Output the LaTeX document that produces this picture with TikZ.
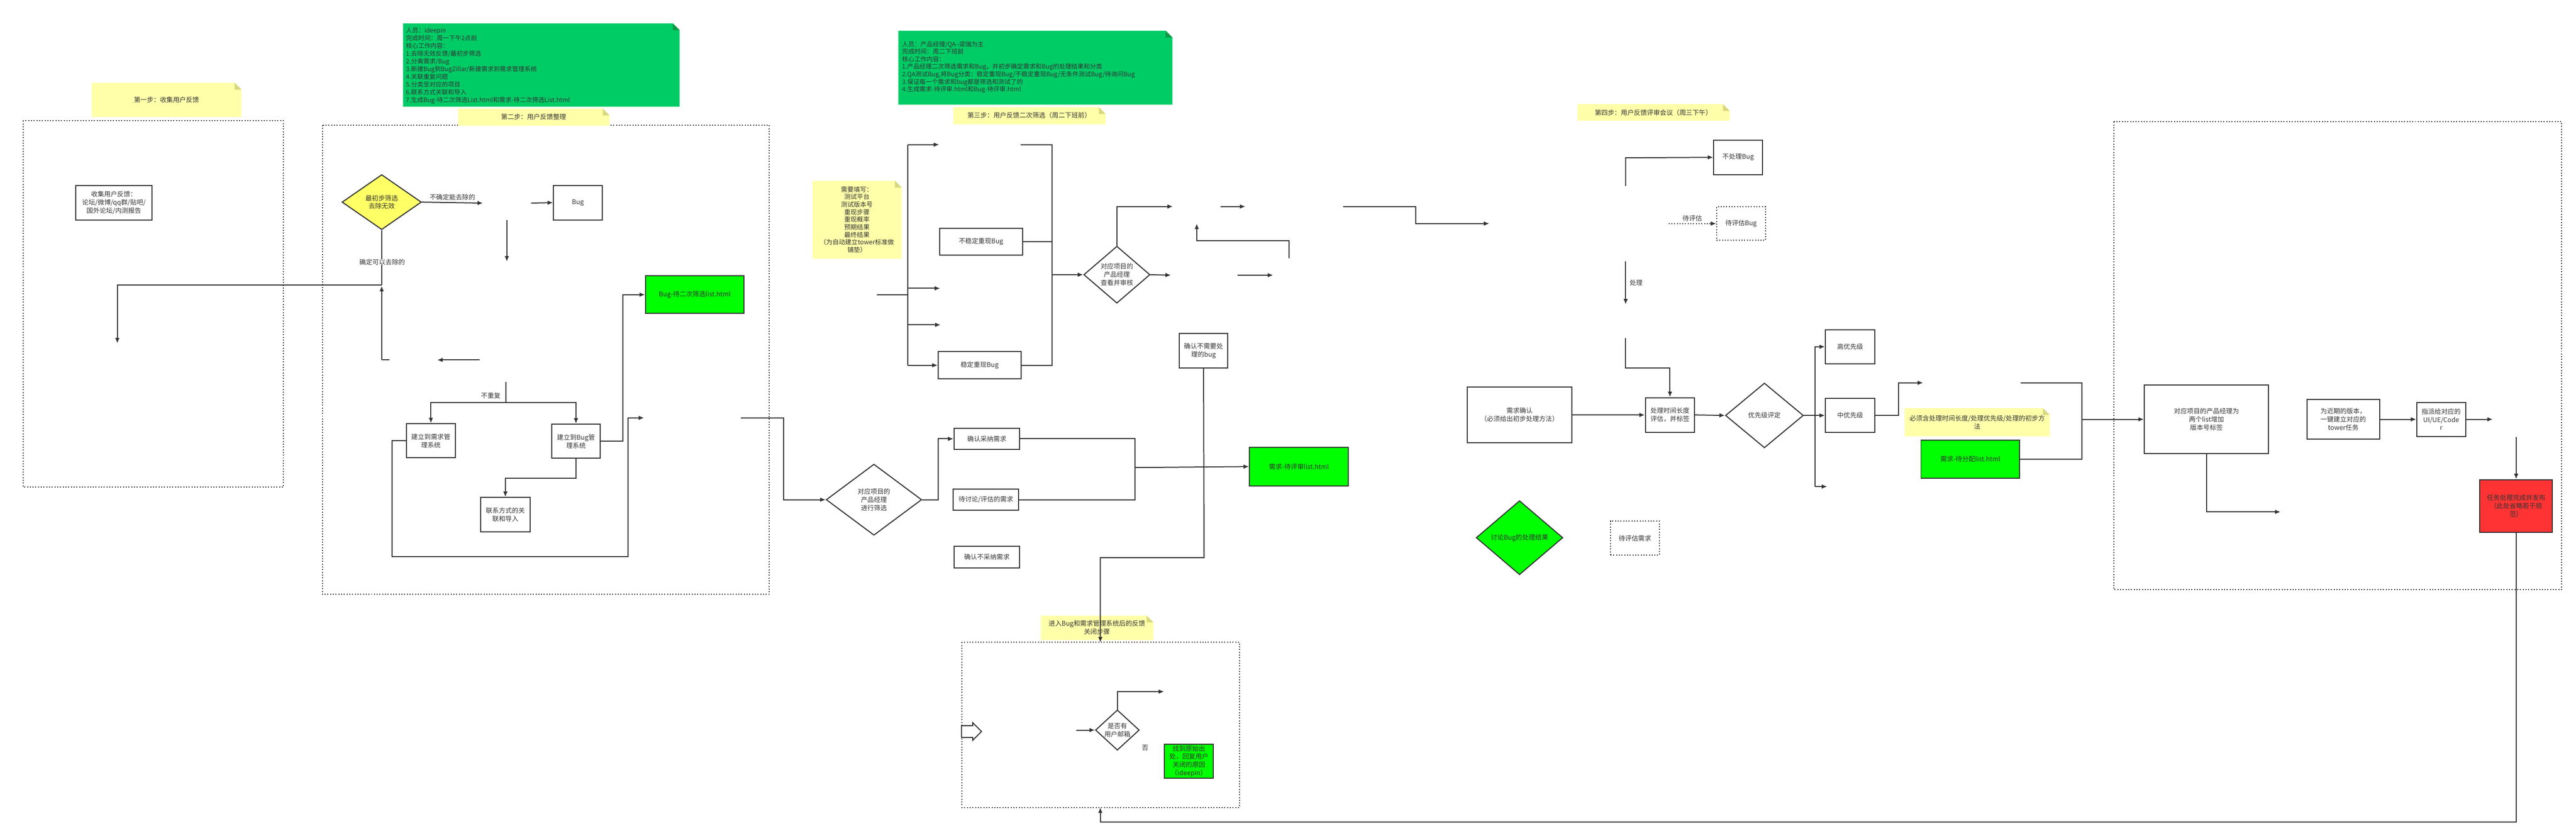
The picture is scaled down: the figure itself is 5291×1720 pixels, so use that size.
\documentclass[tikz,border=0pt]{standalone}
\usepackage{fontspec}
\setmainfont{Noto Sans CJK SC}
\usetikzlibrary{shapes.geometric,arrows.meta}
\definecolor{gnote}{HTML}{00CC66}
\definecolor{gfold}{HTML}{119944}
\definecolor{lime}{HTML}{00FF00}
\definecolor{ynote}{HTML}{FFFFAA}
\definecolor{yfold}{HTML}{D8D880}
\definecolor{ydia}{HTML}{FFFF66}
\definecolor{redbox}{HTML}{FF3333}
\definecolor{ink}{HTML}{333333}
\begin{document}
\begin{tikzpicture}[x=0.01cm,y=-0.01cm,
  txt/.style={font=\fontsize{3.8}{4.8}\selectfont,text=ink,align=center,inner sep=0pt},
  box/.style={txt,draw=ink,line width=0.6pt,fill=white},
  dbox/.style={box,densely dotted},
  dia/.style={txt,draw=ink,line width=0.6pt,diamond,fill=white},
  ln/.style={draw=ink,line width=0.6pt},
  arr/.style={ln,-{Latex[length=3.2pt,width=2.6pt]}},
  frame/.style={draw=ink,densely dotted,line width=0.6pt},
  lbl/.style={txt,fill=white},
  w/.style={minimum width=#1cm},
  h/.style={minimum height=#1cm}]
\useasboundingbox[fill=white] (0,0) rectangle (5291,1720);
% frames
\draw[frame] (48,248) rectangle (582,1000);
\draw[frame] (662,257) rectangle (1580,1220);
\draw[frame] (1976,1319) rectangle (2546,1658);
\draw[frame] (4342,250) rectangle (5261,1211);
% notes
\fill[ynote] (188,170) -- (482,170) -- (496,184) -- (496,240) -- (188,240) -- cycle;
\fill[yfold] (482,170) -- (496,184) -- (482,184) -- cycle;
\node[txt] (n1) at (342,205) {第一步：收集用户反馈};
\fill[gnote] (828,48) -- (1382,48) -- (1396,62) -- (1396,219) -- (828,219) -- cycle;
\fill[gfold] (1382,48) -- (1396,62) -- (1382,62) -- cycle;
\node[txt,align=left,anchor=north west,font=\fontsize{3.6}{4.5}\selectfont] (g1) at (833,56) {人员：ideepin\\完成时间：周一下午2点前\\核心工作内容：\\1.去除无效反馈/最初步筛选\\2.分离需求/Bug\\3.新建Bug到BugZillar/新建需求到需求管理系统\\4.关联重复问题\\5.分类至对应的项目\\6.联系方式关联和导入\\7.生成Bug-待二次筛选List.html和需求-待二次筛选List.html};
\fill[ynote] (941,223) -- (1238,223) -- (1252,237) -- (1252,258) -- (941,258) -- cycle;
\fill[yfold] (1238,223) -- (1252,237) -- (1238,237) -- cycle;
\node[txt] (n2) at (1096,240) {第二步：用户反馈整理};
\fill[gnote] (1845,63) -- (2394,63) -- (2408,77) -- (2408,215) -- (1845,215) -- cycle;
\fill[gfold] (2394,63) -- (2408,77) -- (2394,77) -- cycle;
\node[txt,align=left,anchor=north west,font=\fontsize{3.6}{4.4}\selectfont] (g2) at (1852,84) {人员：产品经理/QA--梁瑞为主\\完成时间：周二下班前\\核心工作内容：\\1.产品经理二次筛选需求和Bug，并初步确定需求和Bug的处理结果和分类\\2.QA测试Bug,将Bug分类：稳定重现Bug/不稳定重现Bug/无条件测试Bug/待询问Bug\\3.保证每一个需求和bug都是筛选和测试了的\\4.生成需求-待评审.html和Bug-待评审.html};
\fill[ynote] (1958,220) -- (2257,220) -- (2271,234) -- (2271,255) -- (1958,255) -- cycle;
\fill[yfold] (2257,220) -- (2271,234) -- (2257,234) -- cycle;
\node[txt] (n3) at (2114,237) {第三步：用户反馈二次筛选（周二下班前）};
\fill[ynote] (1669,371) -- (1838,371) -- (1852,385) -- (1852,531) -- (1669,531) -- cycle;
\fill[yfold] (1838,371) -- (1852,385) -- (1838,385) -- cycle;
\node[txt,font=\fontsize{3.7}{4.4}\selectfont] (nf) at (1760,451) {需要填写：\\测试平台\\测试版本号\\重现步骤\\重现概率\\预期结果\\最终结果\\（为自动建立tower标准做\\铺垫）};
\fill[ynote] (3240,214) -- (3539,214) -- (3553,228) -- (3553,248) -- (3240,248) -- cycle;
\fill[yfold] (3539,214) -- (3553,228) -- (3539,228) -- cycle;
\node[txt] (n4) at (3396,231) {第四步：用户反馈评审会议（周三下午）};
\fill[ynote] (2138,1264) -- (2355,1264) -- (2369,1278) -- (2369,1314) -- (2138,1314) -- cycle;
\fill[yfold] (2355,1264) -- (2369,1278) -- (2355,1278) -- cycle;
\node[txt] (n5) at (2253,1289) {进入Bug和需求管理系统后的反馈\\关闭步骤};
\fill[ynote] (3912,838) -- (4196,838) -- (4210,852) -- (4210,896) -- (3912,896) -- cycle;
\fill[yfold] (4196,838) -- (4210,852) -- (4196,852) -- cycle;
\node[txt] (n6) at (4061,867) {必须含处理时间长度/处理优先级/处理的初步方\\法};
% step 1-2 nodes
\node[box,w=1.56,h=0.71] (collect) at (234,416) {收集用户反馈：\\论坛/微博/qq群/贴吧/\\国外论坛/内测报告};
\node[dia,fill=ydia,w=1.63,h=1.13] (d1) at (784,415) {最初步筛选\\去除无效};
\node[box,w=1.00,h=0.71] (bug) at (1187,416) {Bug};
\node[box,fill=lime,w=2.02,h=0.77] (bl1) at (1427,605) {Bug-待二次筛选list.html};
\node[box,w=1.00,h=0.70] (req1) at (885,905) {建立到需求管\\理系统};
\node[box,w=1.00,h=0.70] (bugsys) at (1183,906) {建立到Bug管\\理系统};
\node[box,w=1.01,h=0.71] (contact) at (1038,1057) {联系方式的关\\联和导入};
% step 3 nodes
\node[box,w=1.70,h=0.55] (unstable) at (2015,496) {不稳定重现Bug};
\node[box,w=1.70,h=0.56] (stable) at (2012,750) {稳定重现Bug};
\node[dia,w=1.36,h=1.17] (d2) at (2294,564) {对应项目的\\产品经理\\查看并审核};
\node[dia,w=1.96,h=1.46] (d3) at (1795,1026) {对应项目的\\产品经理\\进行筛选};
\node[box,w=1.35,h=0.44] (accept) at (2027,901) {确认采纳需求};
\node[box,w=1.34,h=0.44] (discuss) at (2025,1026) {待讨论/评估的需求};
\node[box,w=1.34,h=0.44] (reject) at (2027,1144) {确认不采纳需求};
\node[box,w=1.00,h=0.70] (nobug) at (2472,720) {确认不需要处\\理的bug};
\node[box,fill=lime,w=2.03,h=0.79] (bl2) at (2668,958) {需求-待评审list.html};
\node[dia,w=0.90,h=0.70] (d4) at (2295,1499) {是否有\\用户邮箱};
\node[box,fill=lime,w=1.01,h=0.70] (find) at (2442,1563) {找到原始出\\处，回复用户\\关闭的原因\\（ideepin）};
\draw[ink,line width=0.6pt,fill=white] (1975,1490) -- (1998,1490) -- (1998,1484) -- (2016,1502) -- (1998,1520) -- (1998,1514) -- (1975,1514) -- cycle;
% step 4 nodes
\node[box,w=1.00,h=0.71] (nbp) at (3570,323) {不处理Bug};
\node[dbox,w=1.00,h=0.69] (evalbug) at (3576,459) {待评估Bug};
\node[box,w=2.15,h=1.14] (reqconf) at (3121,852) {需求确认\\（必须给出初步处理方法）};
\node[box,w=1.01,h=0.71] (teval) at (3430,852) {处理时间长度\\评估，并标签};
\node[dia,w=1.60,h=1.33] (d5) at (3624,853) {优先级评定};
\node[box,w=1.01,h=0.70] (high) at (3800,712) {高优先级};
\node[box,w=1.01,h=0.70] (mid) at (3800,853) {中优先级};
\node[box,fill=lime,w=2.03,h=0.78] (bl3) at (4047,943) {需求-待分配list.html};
\node[dia,fill=lime,w=1.78,h=1.52] (d6) at (3121,1104) {讨论Bug的处理结果};
\node[dbox,w=1.00,h=0.70] (evalreq) at (3358,1105) {待评估需求};
\node[box,w=2.55,h=1.40] (pm) at (4532,861) {对应项目的产品经理为\\两个list增加\\版本号标签};
\node[box,w=1.49,h=0.81] (tower) at (4813,861) {为近期的版本，\\一键建立对应的\\tower任务};
\node[box,w=1.00,h=0.70] (assign) at (5014,861) {指派给对应的\\UI/UE/Code\\r};
\node[box,fill=redbox,w=1.49,h=1.08] (red) at (5168,1039) {任务处理完成并发布\\（此处省略若干规\\范）};
% connectors step 2
\draw[arr] (d1.east) -- node[txt,above=1pt]{不确定能去除的} (992,417);
\draw[arr] (1091,417) -- (bug.west);
\draw[arr] (1041,452) -- (1041,537);
\draw[ln] (d1.south) -- (784,585);
\node[lbl] (l1) at (785,538) {确定可以去除的};
\draw[arr] (784,739) -- (784,587);
\draw[ln] (784,739) -- (800,739);
\draw[arr] (985,739) -- (898,739);
\draw[arr] (784,585) -- (241,585) -- (241,705);
\draw[ln] (1039,784) -- (1039,826);
\node[txt] (l2) at (1008,812) {不重复};
\draw[arr] (1039,826) -- (885,826) -- (req1.north);
\draw[arr] (1039,826) -- (1183,826) -- (bugsys.north);
\draw[arr] (bugsys.south) -- (1183,982) -- (1038,982) -- (contact.north);
\draw[arr] (bugsys.east) -- (1279,906) -- (1279,605) -- (bl1.west);
\draw[arr] (req1.west) -- (805,905) -- (805,1143) -- (1290,1143) -- (1290,858) -- (1323,858);
\draw[arr] (1522,858) -- (1609,858) -- (1609,1026) -- (d3.west);
% step 3
\draw[arr] (d3.east) -- (1927,1026) -- (1927,901) -- (accept.west);
\draw[ln] (accept.east) -- (2331,901) -- (2331,1026) -- (discuss.east);
\draw[arr] (2331,960) -- (bl2.west);
\draw[arr] (nobug.south) -- (2473,1145) -- (2260,1145) -- (2260,1319);
\draw[ln] (1801,605) -- (1864,605);
\draw[ln] (1864,297) -- (1864,750);
\draw[arr] (1864,297) -- (1929,297);
\draw[arr] (1864,592) -- (1931,592);
\draw[arr] (1864,667) -- (1932,667);
\draw[arr] (1864,750) -- (stable.west);
\draw[ln] (2096,297) -- (2161,297) -- (2161,750) -- (stable.east);
\draw[ln] (unstable.east) -- (2161,496);
\draw[arr] (2161,564) -- (d2.west);
\draw[arr] (d2.north) -- (2294,424) -- (2409,424);
\draw[arr] (2507,424) -- (2558,424);
\draw[arr] (2759,424) -- (2908,424) -- (2908,459) -- (3059,459);
\draw[arr] (d2.east) -- (2405,565);
\draw[arr] (2542,565) -- (2615,565);
\draw[arr] (2648,530) -- (2648,494) -- (2458,494) -- (2458,459);
\draw[arr] (2211,1499) -- (d4.west);
\draw[arr] (d4.north) -- (2295,1420) -- (2391,1420);
\node[txt] (l3) at (2352,1535) {否};
\draw[arr] (red.south) -- (5168,1688) -- (2260,1688) -- (2260,1658);
% step 4
\draw[arr] (3339,382) -- (3339,324) -- (nbp.west);
\draw[arr,densely dotted] (3427,459) -- node[txt,above=1pt]{待评估} (evalbug.west);
\draw[arr] (3339,537) -- node[txt,right=2pt]{处理} (3339,625);
\draw[arr] (3339,694) -- (3339,756) -- (3430,756) -- (teval.north);
\draw[arr] (reqconf.east) -- (teval.west);
\draw[arr] (teval.east) -- (d5.west);
\draw[ln] (d5.east) -- (3728,853);
\draw[ln] (3728,711) -- (3728,999);
\draw[arr] (3728,712) -- (high.west);
\draw[arr] (3728,853) -- (mid.west);
\draw[arr] (3728,999) -- (3753,999);
\draw[arr] (mid.east) -- (3899,853) -- (3899,786) -- (3950,786);
\draw[ln] (4150,786) -- (4276,786) -- (4276,943) -- (bl3.east);
\draw[arr] (4276,861) -- (pm.west);
\draw[arr] (pm.south) -- (4532,1051) -- (4684,1051);
\draw[arr] (tower.east) -- (assign.west);
\draw[arr] (assign.east) -- (5120,861);
\draw[arr] (5168,897) -- (red.north);
\end{tikzpicture}
\end{document}
